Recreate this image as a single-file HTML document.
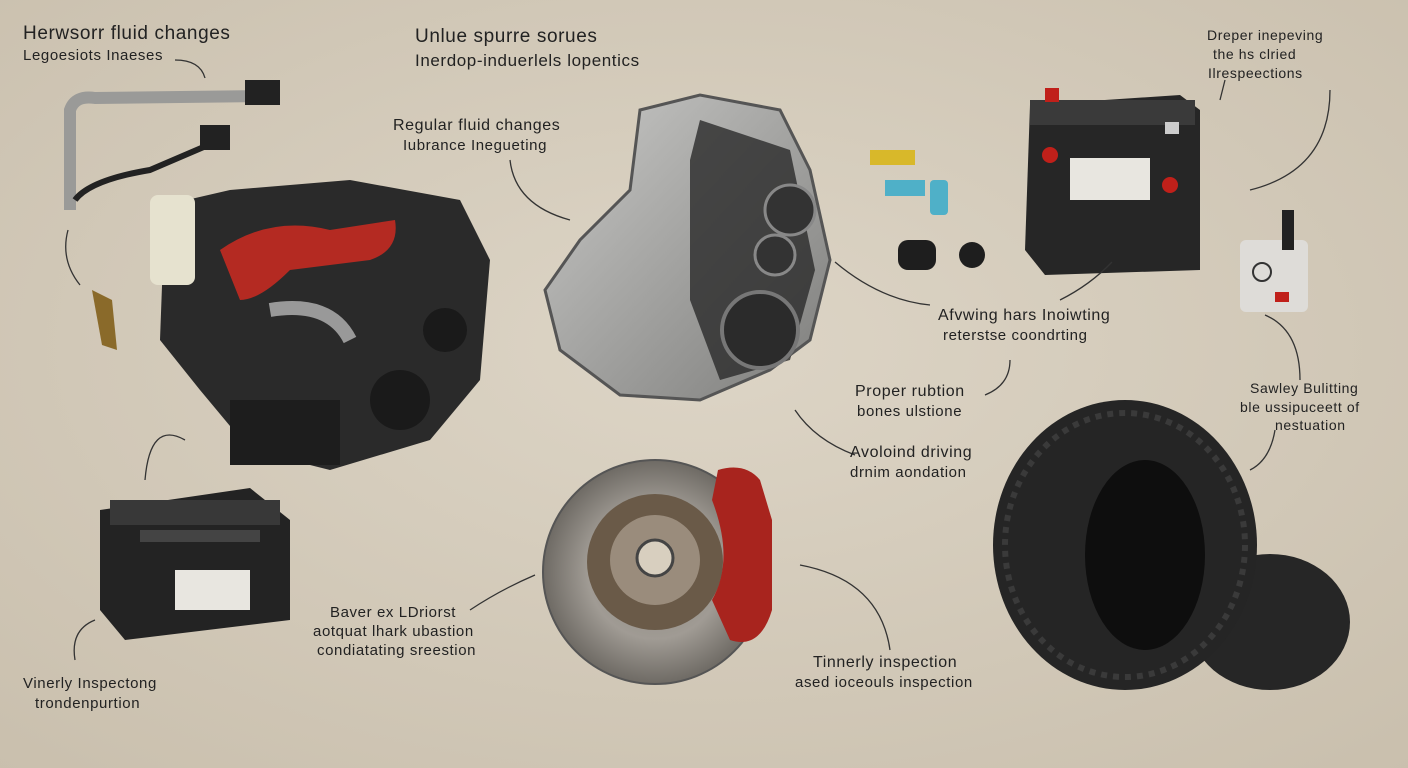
<!DOCTYPE html>
<html><head><meta charset="utf-8"><style>
html,body{margin:0;padding:0;width:1408px;height:768px;overflow:hidden;background:#d8cfbf;}
svg{position:absolute;left:0;top:0}
.t{position:absolute;font-family:"Liberation Sans",sans-serif;color:#222;font-size:15px;line-height:19px;white-space:nowrap;letter-spacing:0.6px}
</style></head><body>
<svg width="1408" height="768" viewBox="0 0 1408 768">
<defs>
<radialGradient id="bg" cx="50%" cy="45%" r="75%"><stop offset="0" stop-color="#ddd5c6"/><stop offset="1" stop-color="#c9bfad"/></radialGradient>
<radialGradient id="disc" cx="50%" cy="50%" r="50%"><stop offset="0" stop-color="#8a857d"/><stop offset="0.6" stop-color="#a09b94"/><stop offset="1" stop-color="#6e6a64"/></radialGradient>
<linearGradient id="gb" x1="0" y1="0" x2="1" y2="1"><stop offset="0" stop-color="#c9c9c7"/><stop offset="1" stop-color="#7d7d7b"/></linearGradient>
</defs>
<rect width="1408" height="768" fill="url(#bg)"/>
<path d="M70 210 L70 110 Q75 95 95 98 L270 96" stroke="#9a9a98" stroke-width="12" fill="none"/>
<path d="M75 200 Q90 180 150 170 L220 140" stroke="#222" stroke-width="6" fill="none"/>
<rect x="245" y="80" width="35" height="25" fill="#222"/><rect x="200" y="125" width="30" height="25" fill="#222"/>
<path d="M92 290 l20 10 l5 50 l-15 -5 z" fill="#8a6a2a"/>
<path d="M165 205 L230 190 L350 180 L460 200 L490 260 L480 380 L430 440 L330 470 L250 450 L200 390 L160 340 Z" fill="#2a2a2a"/>
<rect x="150" y="195" width="45" height="90" rx="8" fill="#e6e2cf"/>
<path d="M220 250 Q270 215 330 230 L395 220 Q400 250 370 260 L290 270 Q260 300 240 300 Z" fill="#b42a22"/>
<circle cx="400" cy="400" r="30" fill="#1a1a1a"/><circle cx="445" cy="330" r="22" fill="#1a1a1a"/>
<path d="M270 310 Q330 300 350 340" stroke="#999" stroke-width="14" fill="none"/>
<rect x="230" y="400" width="110" height="65" fill="#1d1d1d"/>
<path d="M640 110 L700 95 L780 110 L810 170 L830 260 L810 340 L770 370 L700 400 L620 395 L560 350 L545 290 L580 240 L630 190 Z" fill="url(#gb)" stroke="#555" stroke-width="3"/>
<path d="M700 120 L790 150 L815 270 L790 360 L720 380 L690 300 L690 160 Z" fill="#2a2a2a" opacity="0.8"/>
<circle cx="790" cy="210" r="25" fill="#333" stroke="#888" stroke-width="3"/>
<circle cx="775" cy="255" r="20" fill="#333" stroke="#888" stroke-width="3"/>
<circle cx="760" cy="330" r="38" fill="#2b2b2b" stroke="#777" stroke-width="4"/>
<rect x="870" y="150" width="45" height="15" fill="#d8b82a"/>
<rect x="885" y="180" width="40" height="16" fill="#4fb0c8"/><rect x="930" y="180" width="18" height="35" rx="4" fill="#4fb0c8"/>
<rect x="898" y="240" width="38" height="30" rx="10" fill="#1e1e1e"/><circle cx="972" cy="255" r="13" fill="#1e1e1e"/>
<path d="M1030 105 L1180 95 L1200 110 L1200 270 L1045 275 L1025 250 Z" fill="#262626"/>
<rect x="1030" y="100" width="165" height="25" fill="#3a3a3a"/>
<rect x="1045" y="88" width="14" height="14" fill="#c0201a"/><rect x="1165" y="122" width="14" height="12" fill="#ccc"/>
<rect x="1070" y="158" width="80" height="42" fill="#e8e6e0"/>
<circle cx="1050" cy="155" r="8" fill="#c0201a"/><circle cx="1170" cy="185" r="8" fill="#c0201a"/>
<rect x="1240" y="240" width="68" height="72" rx="6" fill="#dedcd8"/><rect x="1282" y="210" width="12" height="40" fill="#222"/>
<circle cx="1262" cy="272" r="9" fill="none" stroke="#333" stroke-width="2"/><rect x="1275" y="292" width="14" height="10" fill="#c0201a"/>
<path d="M100 510 L250 488 L290 520 L290 620 L125 640 L100 610 Z" fill="#232323"/>
<rect x="110" y="500" width="170" height="25" fill="#383838"/>
<rect x="140" y="530" width="120" height="12" fill="#444"/>
<rect x="175" y="570" width="75" height="40" fill="#e8e6e0"/>
<circle cx="655" cy="572" r="112" fill="url(#disc)" stroke="#555" stroke-width="2"/>
<circle cx="655" cy="562" r="68" fill="#6a5a48"/>
<circle cx="655" cy="560" r="45" fill="#9a8c7c"/>
<circle cx="655" cy="558" r="18" fill="#d8cfbf" stroke="#444" stroke-width="3"/>
<path d="M718 470 Q745 462 760 480 L772 520 L772 610 Q760 650 730 640 L712 600 Q735 560 712 500 Z" fill="#a8241e"/>
<ellipse cx="1270" cy="622" rx="80" ry="68" fill="#262626"/>
<ellipse cx="1125" cy="545" rx="132" ry="145" fill="#252525"/>
<ellipse cx="1145" cy="555" rx="60" ry="95" fill="#0e0e0e"/>
<ellipse cx="1125" cy="545" rx="120" ry="132" fill="none" stroke="#3a3a3a" stroke-width="6" stroke-dasharray="6 6"/>
<g stroke="#333" stroke-width="1.3" fill="none">
<path d="M175 60 Q200 60 205 78"/><path d="M80 285 Q60 260 68 230"/>
<path d="M510 160 Q515 205 570 220"/><path d="M185 440 Q150 420 145 480"/>
<path d="M75 660 Q70 630 95 620"/><path d="M470 610 Q500 590 535 575"/>
<path d="M890 650 Q880 580 800 565"/><path d="M930 305 Q880 300 835 262"/>
<path d="M985 395 Q1010 385 1010 360"/><path d="M855 455 Q815 440 795 410"/>
<path d="M1060 300 Q1090 285 1112 262"/><path d="M1225 80 L1220 100"/>
<path d="M1330 90 Q1330 170 1250 190"/><path d="M1300 380 Q1300 330 1265 315"/>
<path d="M1275 430 Q1270 460 1250 470"/>
</g>
</svg>
<div class="t" style="left:23px;top:24px;font-size:19px">Herwsorr fluid changes</div>
<div class="t" style="left:23px;top:46px;font-size:15px">Legoesiots Inaeses</div>
<div class="t" style="left:415px;top:27px;font-size:19px">Unlue spurre sorues</div>
<div class="t" style="left:415px;top:51px;font-size:17px">Inerdop-induerlels lopentics</div>
<div class="t" style="left:393px;top:116px;font-size:16px">Regular fluid changes</div>
<div class="t" style="left:403px;top:136px;font-size:15px">Iubrance Inegueting</div>
<div class="t" style="left:1207px;top:26px;font-size:14px">Dreper inepeving</div>
<div class="t" style="left:1213px;top:45px;font-size:14px">the hs clried</div>
<div class="t" style="left:1208px;top:64px;font-size:14px">Ilrespeections</div>
<div class="t" style="left:938px;top:306px;font-size:16px">Afvwing hars Inoiwting</div>
<div class="t" style="left:943px;top:326px;font-size:15px">reterstse coondrting</div>
<div class="t" style="left:855px;top:382px;font-size:16px">Proper rubtion</div>
<div class="t" style="left:857px;top:402px;font-size:15px">bones ulstione</div>
<div class="t" style="left:850px;top:443px;font-size:16px">Avoloind driving</div>
<div class="t" style="left:850px;top:463px;font-size:15px">drnim aondation</div>
<div class="t" style="left:1250px;top:379px;font-size:14px">Sawley Bulitting</div>
<div class="t" style="left:1240px;top:398px;font-size:14px">ble ussipuceett of</div>
<div class="t" style="left:1275px;top:416px;font-size:14px">nestuation</div>
<div class="t" style="left:330px;top:603px;font-size:15px">Baver ex LDriorst</div>
<div class="t" style="left:313px;top:622px;font-size:15px">aotquat lhark ubastion</div>
<div class="t" style="left:317px;top:641px;font-size:15px">condiatating sreestion</div>
<div class="t" style="left:813px;top:653px;font-size:16px">Tinnerly inspection</div>
<div class="t" style="left:795px;top:673px;font-size:15px">ased ioceouls inspection</div>
<div class="t" style="left:23px;top:674px;font-size:15px">Vinerly Inspectong</div>
<div class="t" style="left:35px;top:694px;font-size:15px">trondenpurtion</div>
</body></html>
